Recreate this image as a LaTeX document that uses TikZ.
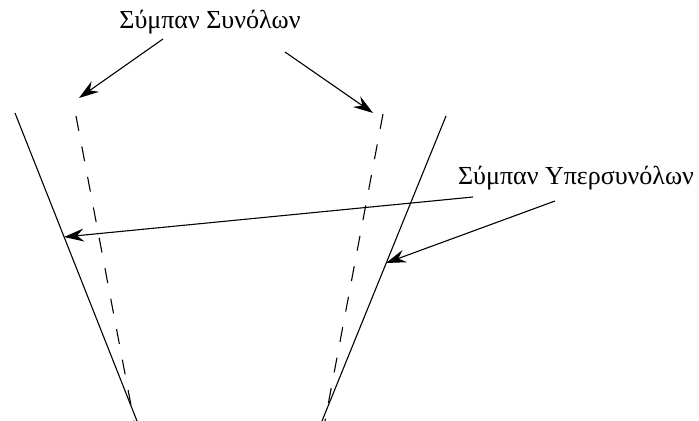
\documentclass[tikz,border=0pt]{standalone}
\usepackage{fontspec}
\setmainfont{Liberation Serif}
\usepackage{tikz}
\usetikzlibrary{arrows.meta}

\begin{document}
\begin{tikzpicture}[
    x=0.5pt, y=-0.5pt,
    label/.style={inner sep=0pt, font=\fontsize{13}{15}\selectfont},
    bound/.style={line width=0.55pt},
    dashbound/.style={line width=0.55pt, dash pattern=on 7.5pt off 8pt},
    arrow/.style={line width=0.55pt, -{Stealth[length=10pt, width=6.5pt, inset=3.5pt]}}
]
    \useasboundingbox (0,0) rectangle (699,421);

    % labels
    \node (sets) [label] at (210,22) {Σύμπαν Συνόλων};
    \node (supersets) [label] at (576,178) {Σύμπαν Υπερσυνόλων};

    % boundaries
    \coordinate (lsTop) at (15,113);
    \coordinate (lsBot) at (137,421);
    \coordinate (ldTop) at (76,116);
    \coordinate (ldBot) at (134,421);
    \coordinate (rdTop) at (383,114);
    \coordinate (rdBot) at (325,421);
    \coordinate (rsTop) at (446,116);
    \coordinate (rsBot) at (322,421);

    \draw [bound] (lsTop) -- (lsBot);
    \draw [dashbound] (ldTop) -- (ldBot);
    \draw [dashbound] (rdTop) -- (rdBot);
    \draw [bound] (rsTop) -- (rsBot);

    % arrow ends
    \coordinate (setsA) at (163,39);
    \coordinate (setsB) at (285,52);
    \coordinate (supA) at (473,197);
    \coordinate (supB) at (555,201);
    \coordinate (tipL) at (79,98);
    \coordinate (tipR) at (373,113);
    \coordinate (tipLS) at (64,237);
    \coordinate (tipRS) at (386,263);

    \draw [arrow] (setsA) -- (tipL);
    \draw [arrow] (setsB) -- (tipR);
    \draw [arrow] (supA) -- (tipLS);
    \draw [arrow] (supB) -- (tipRS);
\end{tikzpicture}
\end{document}
